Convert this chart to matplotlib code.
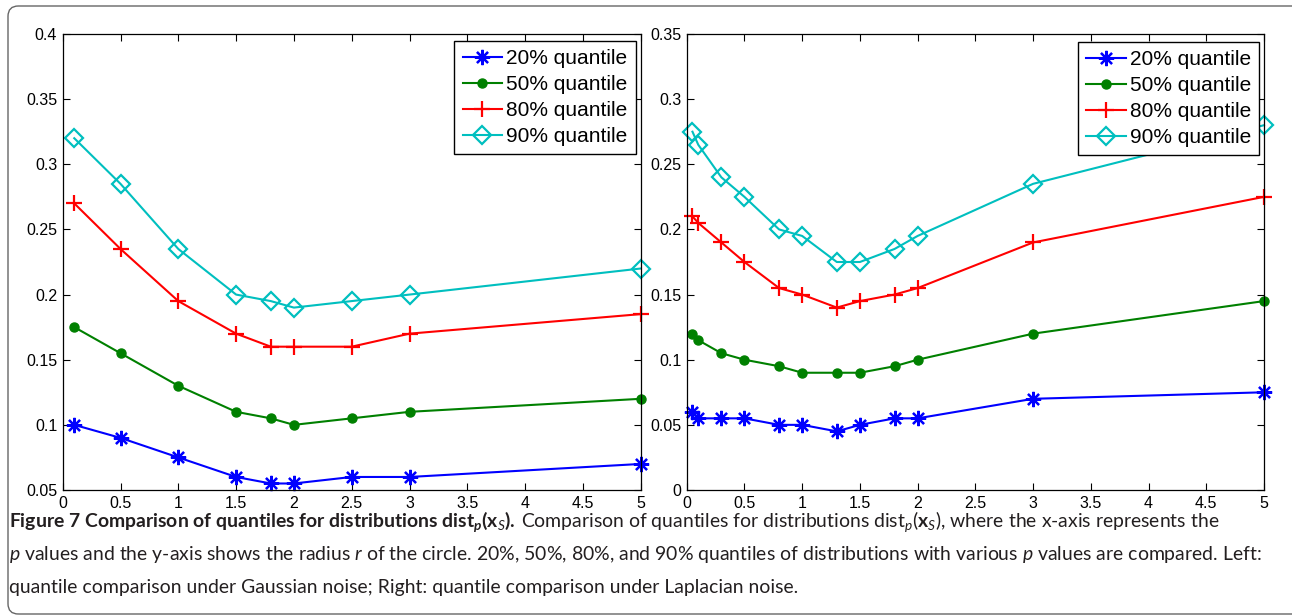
"""
Quantile comparison of dist_p(x_S): Gaussian noise (left) vs Laplacian noise (right).
"""

import matplotlib
matplotlib.use("Agg")
import matplotlib.pyplot as plt
from matplotlib.patches import FancyBboxPatch
from matplotlib.ticker import FormatStrFormatter, MultipleLocator

W, H, DPI = 1292, 616, 100

# ---------------------------------------------------------------------------
# Data
# ---------------------------------------------------------------------------

p_gauss = [0.1, 0.5, 1, 1.5, 1.8, 2, 2.5, 3, 5]
gauss_q20 = [0.100, 0.090, 0.075, 0.060, 0.055, 0.055, 0.060, 0.060, 0.070]
gauss_q50 = [0.175, 0.155, 0.130, 0.110, 0.105, 0.100, 0.105, 0.110, 0.120]
gauss_q80 = [0.270, 0.235, 0.195, 0.170, 0.160, 0.160, 0.160, 0.170, 0.185]
gauss_q90 = [0.320, 0.285, 0.235, 0.200, 0.195, 0.190, 0.195, 0.200, 0.220]

p_lap = [0.05, 0.1, 0.3, 0.5, 0.8, 1, 1.3, 1.5, 1.8, 2, 3, 5]
lap_q20 = [0.060, 0.055, 0.055, 0.055, 0.050, 0.050, 0.045, 0.050, 0.055, 0.055, 0.070, 0.075]
lap_q50 = [0.120, 0.115, 0.105, 0.100, 0.095, 0.090, 0.090, 0.090, 0.095, 0.100, 0.120, 0.145]
lap_q80 = [0.210, 0.205, 0.190, 0.175, 0.155, 0.150, 0.140, 0.145, 0.150, 0.155, 0.190, 0.225]
lap_q90 = [0.275, 0.265, 0.240, 0.225, 0.200, 0.195, 0.175, 0.175, 0.185, 0.195, 0.235, 0.280]

labels = ["20% quantile", "50% quantile", "80% quantile", "90% quantile"]

# ---------------------------------------------------------------------------
# Style
# ---------------------------------------------------------------------------

plt.rcParams["font.family"] = ["Liberation Sans", "DejaVu Sans"]
plt.rcParams["mathtext.fontset"] = "custom"
plt.rcParams["mathtext.rm"] = "Lato"
plt.rcParams["mathtext.it"] = "Lato:italic"
plt.rcParams["mathtext.bf"] = "Lato:bold"
plt.rcParams["mathtext.bfit"] = "Lato:bold:italic"

styles = [
    dict(color="#0000ff", marker=(8, 2, 0), markersize=11, markeredgewidth=1.6),
    dict(color="#008000", marker="o", markersize=6.5),
    dict(color="#ff0000", marker="+", markersize=11, markeredgewidth=1.6),
    dict(color="#00bfbf", marker="D", markersize=9, markerfacecolor="none",
         markeredgewidth=1.6),
]


def draw_panel(ax, x, series, ylim, legend_anchor):
    for ys, st in zip(series, styles):
        ax.plot(x, ys, linewidth=1.5, clip_on=False, **st)
    ax.set_xlim(0, 5)
    ax.set_ylim(*ylim)
    ax.xaxis.set_major_locator(MultipleLocator(0.5))
    ax.yaxis.set_major_locator(MultipleLocator(0.05))
    ax.xaxis.set_major_formatter(FormatStrFormatter("%g"))
    ax.yaxis.set_major_formatter(FormatStrFormatter("%g"))
    ax.tick_params(direction="in", length=5, top=True, right=True,
                   labelsize=11.5, pad=4)
    for sp in ax.spines.values():
        sp.set_linewidth(0.9)
    leg = ax.legend(labels, loc="upper right", bbox_to_anchor=legend_anchor,
                    borderaxespad=0, fancybox=False, edgecolor="black",
                    framealpha=1, fontsize=15, handlelength=1.9,
                    handletextpad=0.2, labelspacing=0.33, borderpad=0.4,
                    numpoints=1)
    leg.get_frame().set_linewidth(1.0)


fig = plt.figure(figsize=(W / DPI, H / DPI), dpi=DPI)

ax_l = fig.add_axes([62.7 / W, 126 / H, 578 / W, 456 / H])
draw_panel(ax_l, p_gauss, [gauss_q20, gauss_q50, gauss_q80, gauss_q90],
           (0.05, 0.4), (1 - 4.7 / 578, 1 - 7 / 456))

ax_r = fig.add_axes([686.7 / W, 126 / H, 577.3 / W, 456 / H])
draw_panel(ax_r, p_lap, [lap_q20, lap_q50, lap_q80, lap_q90],
           (0.0, 0.35), (1 - 4.7 / 577.3, 1 - 8 / 456))

# rounded frame around the whole figure (right side runs off the picture)
frame = FancyBboxPatch((8 / W, 2 / H), 1300 / W, 608 / H,
                       boxstyle="round,pad=0,rounding_size=0.008",
                       mutation_aspect=W / H, transform=fig.transFigure,
                       facecolor="none", edgecolor="#666666", linewidth=1.0)
fig.patches.append(frame)

# ---------------------------------------------------------------------------
# Caption
# ---------------------------------------------------------------------------

caption_parts = [
    [(r"Figure 7 Comparison of quantiles for distributions dist$_{\mathbfit{p}}$($\mathbf{x}_{S}$).", "bold"),
     (r"Comparison of quantiles for distributions dist$_{p}$($\mathbf{x}_{S}$), where the x-axis represents the", "normal")],
    [(r"$p$ values and the y-axis shows the radius $r$ of the circle. 20%, 50%, 80%, and 90% quantiles of distributions with various $p$ values are compared. Left:", "normal")],
    [("quantile comparison under Gaussian noise; Right: quantile comparison under Laplacian noise.", "normal")],
]
CAP_X = 9
cap_right = [1278, 1261]          # right ends of the first two lines
cap_baselines = [527, 560, 593]

caption_rows = []
for base, parts in zip(cap_baselines, caption_parts):
    row = []
    for s, weight in parts:
        t = fig.text(CAP_X / W, 1 - base / H, s, fontweight=weight,
                     family="Lato", va="baseline", ha="left",
                     color="#231f20", fontsize=12)
        row.append(t)
    caption_rows.append(row)


def place_caption(size):
    renderer = fig.canvas.get_renderer()
    ends = []
    for row in caption_rows:
        x = CAP_X
        for t in row:
            t.set_fontsize(size)
            t.set_x(x / W)
            ext = t.get_window_extent(renderer)
            x = ext.x1 + 0.27 * size * DPI / 72
        ends.append(ext.x1)
    return ends


fig.canvas.draw()
size = 12.0
for _ in range(3):
    ends = place_caption(size)
    size *= min((r - CAP_X) / (e - CAP_X) for r, e in zip(cap_right, ends))
place_caption(size)

fig.savefig("out.png", dpi=DPI)
